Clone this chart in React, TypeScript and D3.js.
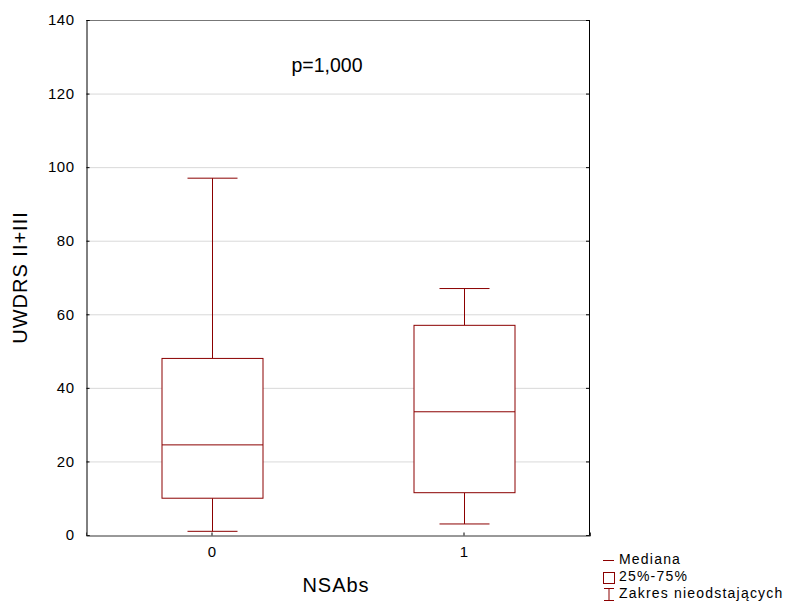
import * as d3 from "d3";
import React, { useRef, useEffect } from "react";

const categories = ["0", "1"];
const mins = [1, 3];
const q1s = [10, 11.5];
const medians = [24.5, 33.5];
const q3s = [48, 57];
const maxs = [97, 67];
const yTicks = [0, 20, 40, 60, 80, 100, 120, 140];
const legendLabels = ["Mediana", "25%-75%", "Zakres nieodstających"];

const W = 787,
  H = 604;
const margin = { top: 20, right: 197, bottom: 69, left: 86 };
const RED = "#8b0000";
const FONT = "'Liberation Sans', Arial, sans-serif";

function App() {
  const ref = useRef<SVGSVGElement>(null);

  useEffect(() => {
    const svg = d3.select(ref.current);
    svg.selectAll("*").remove();

    const pw = W - margin.left - margin.right;
    const ph = H - margin.top - margin.bottom;
    const g = svg
      .append("g")
      .attr("transform", `translate(${margin.left},${margin.top})`);

    const x = d3.scaleBand().domain(categories).range([0, pw]).padding(0);
    const y = d3.scaleLinear().domain([0, 140]).range([ph, 0]);

    // grid
    g.selectAll(".grid")
      .data(yTicks.slice(1, -1))
      .enter()
      .append("line")
      .attr("x1", 0)
      .attr("x2", pw)
      .attr("y1", (d) => y(d) + 0.5)
      .attr("y2", (d) => y(d) + 0.5)
      .attr("stroke", "#d9d9d9");

    // frame
    g.append("line").attr("x1", 0).attr("x2", pw).attr("y1", 0.5).attr("y2", 0.5).attr("stroke", "#777");
    g.append("line").attr("x1", pw - 0.5).attr("x2", pw - 0.5).attr("y1", 0).attr("y2", ph).attr("stroke", "#000");

    // right inward ticks
    g.selectAll(".rt")
      .data(yTicks)
      .enter()
      .append("line")
      .attr("x1", pw - 4)
      .attr("x2", pw)
      .attr("y1", (d) => y(d) + 0.5)
      .attr("y2", (d) => y(d) + 0.5)
      .attr("stroke", "#000");

    // left axis
    const yAxis = g
      .append("g")
      .attr("transform", "translate(0.5,0)")
      .call(d3.axisLeft(y).tickValues(yTicks).tickSize(-3).tickPadding(12));
    yAxis.attr("font-size", 15).attr("font-family", FONT);
    yAxis.select(".domain").attr("stroke", "#000");
    yAxis.selectAll("text").attr("fill", "#000").style("letter-spacing", "0.5px");

    // bottom axis
    const xAxis = g
      .append("g")
      .attr("transform", `translate(0,${ph + 0.5})`)
      .call(d3.axisBottom(x).tickSize(-3).tickPadding(11));
    xAxis.attr("font-size", 15).attr("font-family", FONT);
    xAxis.select(".domain").attr("stroke", "#333");
    xAxis.selectAll("text").attr("fill", "#000");

    // boxes
    const bw = 101;
    const cw = 50;
    const boxes = g
      .selectAll(".box")
      .data(categories)
      .enter()
      .append("g")
      .attr("transform", (d) => `translate(${Math.round(x(d)! + x.bandwidth() / 2) + 0.5},0)`);

    boxes
      .append("line")
      .attr("x1", 0)
      .attr("x2", 0)
      .attr("y1", (d, i) => y(maxs[i]))
      .attr("y2", (d, i) => y(q3s[i]))
      .attr("stroke", RED);
    boxes
      .append("line")
      .attr("x1", 0)
      .attr("x2", 0)
      .attr("y1", (d, i) => y(q1s[i]))
      .attr("y2", (d, i) => y(mins[i]))
      .attr("stroke", RED);
    boxes
      .append("line")
      .attr("x1", -cw / 2)
      .attr("x2", cw / 2)
      .attr("y1", (d, i) => y(maxs[i]))
      .attr("y2", (d, i) => y(maxs[i]))
      .attr("stroke", RED);
    boxes
      .append("line")
      .attr("x1", -cw / 2)
      .attr("x2", cw / 2)
      .attr("y1", (d, i) => y(mins[i]))
      .attr("y2", (d, i) => y(mins[i]))
      .attr("stroke", RED);
    boxes
      .append("rect")
      .attr("x", -bw / 2)
      .attr("width", bw)
      .attr("y", (d, i) => y(q3s[i]))
      .attr("height", (d, i) => y(q1s[i]) - y(q3s[i]))
      .attr("fill", "#fff")
      .attr("stroke", RED);
    boxes
      .append("line")
      .attr("x1", -bw / 2)
      .attr("x2", bw / 2)
      .attr("y1", (d, i) => y(medians[i]))
      .attr("y2", (d, i) => y(medians[i]))
      .attr("stroke", RED);

    // annotation
    svg
      .append("text")
      .attr("x", 327)
      .attr("y", 72)
      .attr("text-anchor", "middle")
      .attr("font-family", FONT)
      .attr("font-size", 19.5)
      .text("p=1,000");

    // axis titles
    svg
      .append("text")
      .attr("transform", `translate(27,${margin.top + ph / 2}) rotate(-90)`)
      .attr("text-anchor", "middle")
      .attr("font-family", FONT)
      .attr("font-size", 20)
      .style("letter-spacing", "1px")
      .text("UWDRS II+III");
    svg
      .append("text")
      .attr("x", 336)
      .attr("y", 592)
      .attr("text-anchor", "middle")
      .attr("font-family", FONT)
      .attr("font-size", 20)
      .style("letter-spacing", "1px")
      .text("NSAbs");

    // legend
    const lg = svg.append("g").attr("transform", "translate(603,0)");
    lg.append("line").attr("x1", 0).attr("x2", 11).attr("y1", 560.5).attr("y2", 560.5).attr("stroke", RED);
    lg.append("rect").attr("x", 0.5).attr("y", 572.5).attr("width", 11).attr("height", 11).attr("fill", "none").attr("stroke", RED);
    lg.append("line").attr("x1", 1).attr("x2", 11).attr("y1", 588.5).attr("y2", 588.5).attr("stroke", RED);
    lg.append("line").attr("x1", 1).attr("x2", 11).attr("y1", 600.5).attr("y2", 600.5).attr("stroke", RED);
    lg.append("line").attr("x1", 6).attr("x2", 6).attr("y1", 588.5).attr("y2", 600.5).attr("stroke", RED);
    lg.selectAll(".lt")
      .data(legendLabels)
      .enter()
      .append("text")
      .attr("x", 16)
      .attr("y", (d, i) => 564 + i * 17)
      .attr("font-family", FONT)
      .attr("font-size", 14)
      .style("letter-spacing", "1.2px")
      .text((d) => d);
  }, []);

  return (
    <svg
      ref={ref}
      width={W}
      height={H}
      style={{ position: "absolute", left: 0, top: 0, background: "#fff" }}
    ></svg>
  );
}

export default App;
